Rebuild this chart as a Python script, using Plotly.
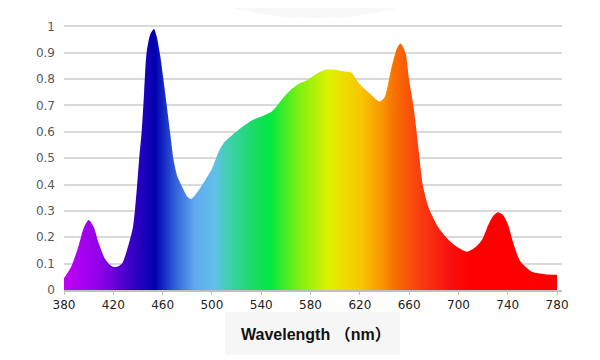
import plotly.graph_objects as go

# Data
wavelength = [380, 386, 392, 396, 400, 404, 408, 413, 418, 422, 427, 431, 436, 439, 441, 443,
              445, 447, 450, 453, 455, 458, 462, 466, 469, 472, 476, 480, 483, 488, 495,
              500, 505, 510, 517, 525, 533, 541, 548, 553, 558, 563, 570, 577, 585, 592,
              598, 606, 613, 620, 628, 636, 640, 646, 650, 653, 657, 660, 664, 668, 671,
              676, 684, 693, 700, 707, 713, 719, 724, 728, 732, 736, 740, 745, 750, 755,
              760, 770, 780]
intensity = [0.045, 0.09, 0.17, 0.235, 0.265, 0.24, 0.18, 0.12, 0.092, 0.087, 0.10, 0.15, 0.24, 0.38, 0.50, 0.60,
             0.75, 0.90, 0.97, 0.99, 0.965, 0.89, 0.75, 0.60, 0.49, 0.43, 0.39, 0.355, 0.345, 0.37, 0.42,
             0.46, 0.52, 0.56, 0.59, 0.62, 0.645, 0.66, 0.675, 0.70, 0.73, 0.755, 0.78, 0.795, 0.82, 0.835,
             0.836, 0.83, 0.825, 0.78, 0.745, 0.715, 0.73, 0.85, 0.915, 0.935, 0.90, 0.795, 0.68, 0.52, 0.40,
             0.31, 0.235, 0.185, 0.16, 0.145, 0.16, 0.19, 0.245, 0.28, 0.295, 0.285, 0.25, 0.17, 0.11, 0.085,
             0.068, 0.06, 0.058]

x_ticks = [380, 420, 460, 500, 540, 580, 620, 660, 700, 740, 780]
y_ticks = [0, 0.1, 0.2, 0.3, 0.4, 0.5, 0.6, 0.7, 0.8, 0.9, 1]
y_tick_labels = ["0", "0.1", "0.2", "0.3", "0.4", "0.5", "0.6", "0.7", "0.8", "0.9", "1"]

# Spectrum colour stops (wavelength, colour)
stop_wl = [380, 409, 433, 454, 470, 486, 502, 513, 531, 547, 571, 595, 620, 640, 648, 668, 693, 709, 780]
stop_col = ["#c000f8", "#9000e8", "#4000c8", "#0000b0", "#3060d8", "#60a8f0", "#60c0e8", "#40d0b0",
            "#20d870", "#00e840", "#80f010", "#e0f000", "#f8c800", "#f89000", "#f87000", "#f84010",
            "#f81010", "#ff0000", "#ff0000"]
colorscale = [[(w - 380) / 400, c] for w, c in zip(stop_wl, stop_col)]

fig = go.Figure()
fig.add_trace(go.Scatter(
    x=wavelength, y=intensity, mode="lines",
    line=dict(width=0, shape="spline", smoothing=0.7, color="rgba(0,0,0,0)"),
    fill="tozeroy",
    fillgradient=dict(type="horizontal", colorscale=colorscale, start=380, stop=780),
    hoverinfo="skip", showlegend=False,
))

fig.update_layout(
    width=592, height=352,
    margin=dict(l=56, r=38, t=14, b=70),
    paper_bgcolor="white", plot_bgcolor="white",
    font=dict(family="DejaVu Sans", size=12, color="#595959"),
    xaxis=dict(range=[380, 784], tickvals=x_ticks, ticktext=[str(t) for t in x_ticks],
               showgrid=False, zeroline=False, showline=True, linecolor="#bfbfbf", linewidth=1.5,
               ticks="outside", ticklen=3, tickcolor="#bfbfbf",
               tickfont=dict(family="DejaVu Sans", size=12, color="#222222")),
    yaxis=dict(range=[0, 1.005], tickvals=y_ticks, ticktext=y_tick_labels,
               showgrid=True, gridcolor="#d9d9d9", gridwidth=1.5, zeroline=False,
               ticks="", ticklabelstandoff=8,
               tickfont=dict(family="DejaVu Sans", size=12, color="#595959")),
    shapes=[
        dict(type="rect", xref="paper", yref="paper", x0=0.323, x1=0.675, y0=-0.243, y1=-0.082,
             fillcolor="#f6f6f6", line=dict(width=0), layer="below"),
        dict(type="circle", xref="paper", yref="paper", x0=0.25, x1=0.76, y0=1.026, y1=1.35,
             fillcolor="#f8f8f8", line=dict(width=0), layer="below"),
    ],
    annotations=[dict(
        text="<b>Wavelength （nm）</b>", xref="paper", yref="paper", x=0.506, y=-0.168,
        xanchor="center", yanchor="middle", showarrow=False,
        font=dict(family="Liberation Sans, Noto Sans CJK SC", size=16, color="#111111"),
    )],
)

fig.write_html("out.html")
